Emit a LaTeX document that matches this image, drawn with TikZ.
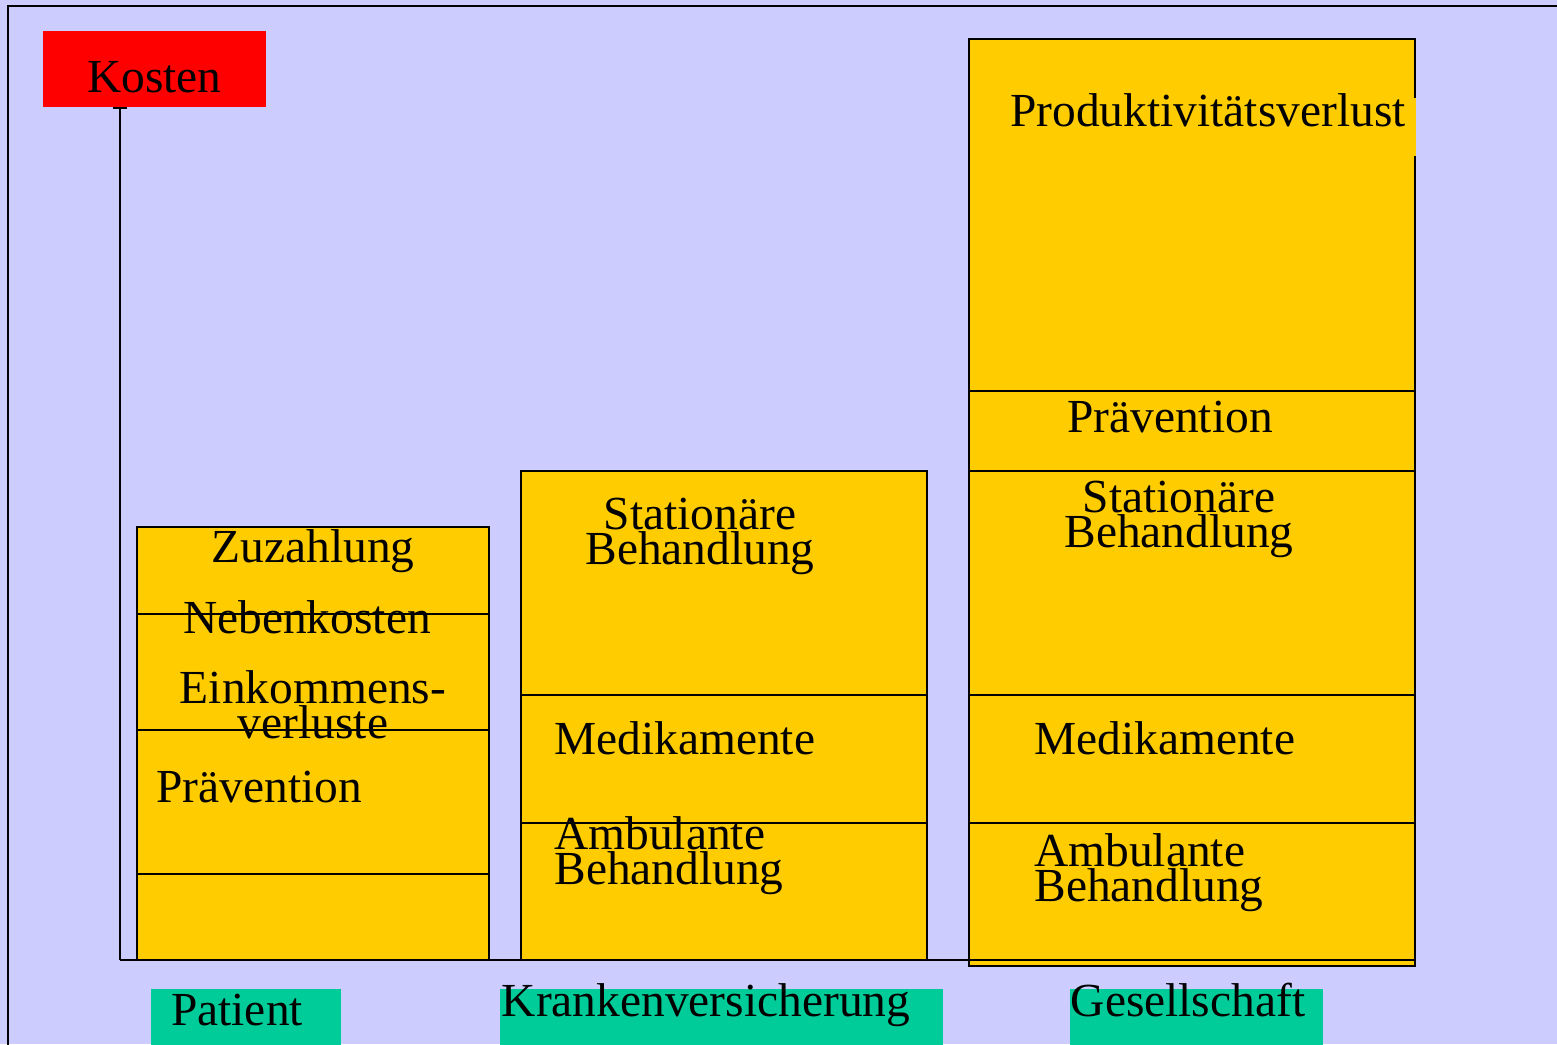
\documentclass[tikz,border=0pt]{standalone}
\usepackage{fontspec}
\setmainfont{Liberation Serif}
\usetikzlibrary{positioning,arrows.meta}
\definecolor{clback}{RGB}{204,204,255}
\definecolor{clbar}{RGB}{255,204,0}
\definecolor{clkost}{RGB}{255,0,0}
\definecolor{cltag}{RGB}{0,204,153}
\tikzstyle{seg} = [rectangle, draw, line width=1pt, fill=clbar, inner sep=0pt, outer sep=0pt]
\tikzstyle{lbl} = [inner sep=0pt, font=\fontsize{27}{20}\selectfont]
\tikzstyle{tag} = [rectangle, fill=cltag, inner sep=0pt, minimum height=1.2cm]
\tikzstyle{axis} = [draw, line width=1pt]

\begin{document}
\begin{tikzpicture}[x=0.02cm, y=-0.02cm]
    \useasboundingbox (0,0) rectangle (1557,1044);
    \fill[clback] (0,0) rectangle (1557,1044);
    \draw[line width=1.2pt] (8,1060) |- (1570,6);

    \node [lbl, fill=clkost, minimum width=4.46cm, minimum height=1.52cm, text height=0.96cm, text depth=0pt] (kosten) at (154.5,69) {Kosten};

    % Patient
    \node [seg, minimum width=7.04cm, minimum height=1.74cm, anchor=north west] (pat1) at (137,527) {};
    \node [seg, minimum width=7.04cm, minimum height=2.32cm, below=0pt of pat1] (pat2) {};
    \node [seg, minimum width=7.04cm, minimum height=2.88cm, below=0pt of pat2] (pat3) {};
    \node [seg, minimum width=7.04cm, minimum height=1.72cm, below=0pt of pat3] (pat4) {};

    \node [lbl] at (313,551) {Zuzahlung};
    \node [lbl] at (307,617) {Nebenkosten};
    \node [lbl, align=center] at (313,705) {Einkommens-\\verluste};
    \node [lbl, anchor=west] at (156,787) {Prävention};

    % Krankenversicherung
    \node [seg, minimum width=8.12cm, minimum height=4.48cm, anchor=north west] (kv1) at (521,471) {};
    \node [seg, minimum width=8.12cm, minimum height=2.56cm, below=0pt of kv1] (kv2) {};
    \node [seg, minimum width=8.12cm, minimum height=2.74cm, below=0pt of kv2] (kv3) {};

    \node [lbl, align=center] at (700,536) {Stationäre\\Behandlung};
    \node [lbl, anchor=west] at (554,738) {Medikamente};
    \node [lbl, align=left, anchor=west] at (554,856) {Ambulante\\Behandlung};

    % Gesellschaft
    \node [seg, minimum width=8.92cm, minimum height=7.04cm, anchor=north west] (ges1) at (969,39) {};
    \node [seg, minimum width=8.92cm, minimum height=1.6cm, below=0pt of ges1] (ges2) {};
    \node [seg, minimum width=8.92cm, minimum height=4.48cm, below=0pt of ges2] (ges3) {};
    \node [seg, minimum width=8.92cm, minimum height=2.56cm, below=0pt of ges3] (ges4) {};
    \node [seg, minimum width=8.92cm, minimum height=2.86cm, below=0pt of ges4] (ges5) {};

    \node [lbl, fill=clbar, minimum width=8.32cm, minimum height=1.18cm, text height=0.4cm, text depth=0.4cm] (prod) at (1208,127) {Produktivitätsverlust};
    \node [lbl] at (1170,417) {Prävention};
    \node [lbl, align=center] at (1179,519) {Stationäre\\Behandlung};
    \node [lbl, anchor=west] at (1034,738) {Medikamente};
    \node [lbl, align=left, anchor=west] at (1034,873) {Ambulante\\Behandlung};

    % Achsen
    \coordinate (origin) at (120,960);
    \draw [axis, -{Bar[width=8pt]}] (origin) -- (origin |- kosten.south);
    \draw [axis] (origin) -- (origin -| ges5.east);

    % Traeger
    \node [tag, minimum width=3.8cm, anchor=north west] (tagpat) at (151,989) {};
    \node [lbl] at (237,1010) {Patient};
    \node [tag, minimum width=8.86cm, anchor=north west] (tagkv) at (500,989) {};
    \node [lbl] at (706,1005) {Krankenversicherung};
    \node [tag, minimum width=5.06cm, anchor=north west] (tagges) at (1070,989) {};
    \node [lbl] at (1188,1000) {Gesellschaft};
\end{tikzpicture}
\end{document}
